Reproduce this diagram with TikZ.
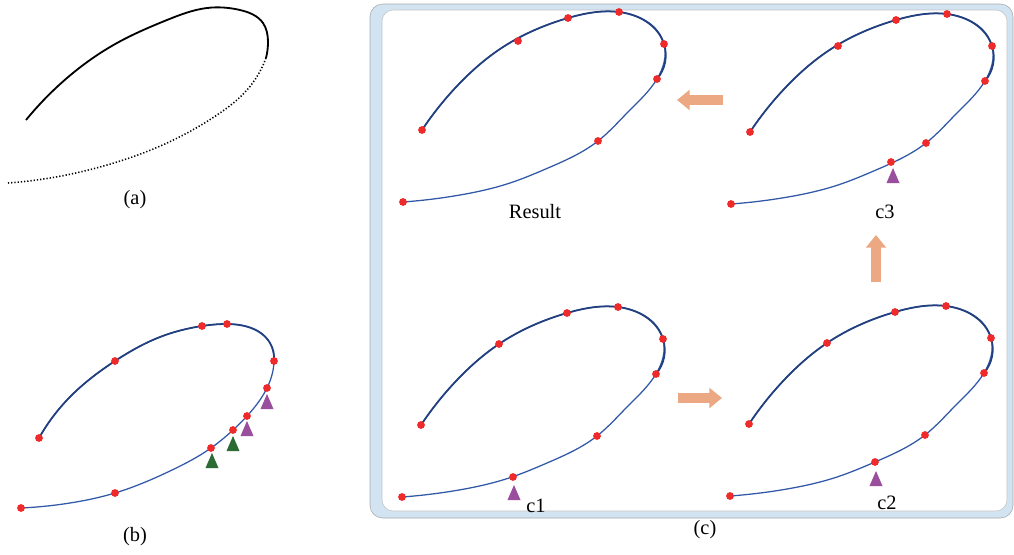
\documentclass[tikz,border=0pt]{standalone}
\usepackage{fontspec}
\setmainfont{Liberation Serif}
\usepackage{xcolor}
\usetikzlibrary{arrows.meta, hobby}
\definecolor{ptred}{HTML}{EE2A2A}
\definecolor{curveblue}{HTML}{3159A8}
\definecolor{curvenavy}{HTML}{22407F}
\definecolor{movegreen}{HTML}{2D6B34}
\definecolor{movepurple}{HTML}{9A4E9E}
\definecolor{arrowsalmon}{HTML}{EBA883}
\definecolor{frameblue}{HTML}{D2E4F2}
\definecolor{framegray}{HTML}{A9A9A9}
\tikzset{
  inputsolid/.style={black,line width=1.3pt},
  inputdotted/.style={black,line width=1.1pt,dash pattern=on 0.9pt off 1.4pt},
  curvelow/.style={curveblue,line width=0.9pt},
  curveup/.style={curvenavy,line width=1.25pt},
  ptdot/.style={fill=ptred},
  steparrow/.style={arrowsalmon,line width=7pt,-{Triangle[width=14pt,length=9pt]}},
  sublabel/.style={inner sep=1pt,font=\fontsize{14.5}{16}\selectfont},
}
% one loop, in the local frame of panel c1
\newcommand{\loopshape}{(421,425) to[curve through={(457,380) (499,344) (567,313) (618,307) (663,339) (656,374) (627,407) (597,436) (547,463) (509,478) (459,490)}] (402,497)}
\newcommand{\loopupper}{(421,425) to[curve through={(457,380) (499,344) (567,313) (618,307) (663,339)}] (656,374)}
\newcommand{\marktri}[3]{\fill[#1] ({#2-6.5},{#3+15}) -- ({#2+6.5},{#3+15}) -- (#2,#3) -- cycle;}

\begin{document}
\begin{tikzpicture}[x={(0.025cm,0)},y={(0,-0.025cm)}]
  \useasboundingbox (0,0) rectangle (1014,554);

  % (a) input curve
  \draw[inputsolid] (26,120) to[curve through={(67,78) (117,43) (167,20) (207,8) (240,10) (263,23) (268,42)}] (266,58);
  \draw[inputdotted] (266,58) to[curve through={(247,90) (217,115) (167,143) (100,167) (50,178)}] (8,183);
  \node[sublabel] (lblA) at (135,200) {(a)};

  % (b) fitted curve with candidate points
  \draw[curvelow] (39,438) to[curve through={(67,400) (115,361) (160,337) (202,326) (227,324) (270,343) (274,361) (267,388) (247,416) (233,430) (211,448) (170,471) (115,493) (70,503)}] (21,508);
  \draw[curveup] (39,438) to[curve through={(67,400) (115,361) (160,337) (202,326) (227,324) (270,343)}] (274,361);
  \foreach \p in {(39,438),(115,361),(202,326),(227,324),(274,361),(267,388),(247,416),(233,430),(211,448),(115,493),(21,508)}
    \fill[ptdot] \p circle (3.9);
  \marktri{movegreen}{212}{453}
  \marktri{movegreen}{233}{436}
  \marktri{movepurple}{247}{421}
  \marktri{movepurple}{267}{394}
  \node[sublabel] (lblB) at (135,537) {(b)};

  % (c) frame
  \draw[draw=framegray,fill=frameblue,rounded corners=9pt] (370,4) rectangle (1013,518);
  \draw[draw=framegray!70,fill=white,line width=0.4pt,rounded corners=8pt] (382,10) rectangle (1007,511);

  % c1
  \begin{scope}
    \draw[curvelow] \loopshape;
    \draw[curveup] \loopupper;
    \foreach \p in {(421,425),(499,344),(567,313),(618,307),(663,339),(656,374),(597,436),(513,477),(402,497)}
      \fill[ptdot] \p circle (3.9);
    \marktri{movepurple}{514}{485}
  \end{scope}
  \node[sublabel] (lblC1) at (536,506) {c1};

  % c2
  \begin{scope}[shift={(328,-1)}]
    \draw[curvelow] \loopshape;
    \draw[curveup] \loopupper;
    \foreach \p in {(421,425),(499,344),(567,313),(618,307),(663,339),(656,374),(597,436),(547,463),(402,497)}
      \fill[ptdot] \p circle (3.9);
    \marktri{movepurple}{548}{472}
  \end{scope}
  \node[sublabel] (lblC2) at (887,503) {c2};

  % c3
  \begin{scope}[shift={(329,-293)}]
    \draw[curvelow] \loopshape;
    \draw[curveup] \loopupper;
    \foreach \p in {(421,425),(509,339),(567,313),(618,307),(663,339),(656,374),(597,436),(562,455),(402,497)}
      \fill[ptdot] \p circle (3.9);
    \marktri{movepurple}{564}{461}
  \end{scope}
  \node[sublabel] (lblC3) at (885,212) {c3};

  % result
  \begin{scope}[shift={(1,-295)}]
    \draw[curvelow] \loopshape;
    \draw[curveup] \loopupper;
    \foreach \p in {(421,425),(517,336),(567,313),(618,307),(663,339),(656,374),(597,436),(402,497)}
      \fill[ptdot] \p circle (3.9);
  \end{scope}
  \node[sublabel] (lblRes) at (535,212) {Result};

  % steps
  \coordinate (s1a) at (678,398);
  \coordinate (s1b) at (722,398);
  \coordinate (s2a) at (876,282);
  \coordinate (s2b) at (876,235);
  \coordinate (s3a) at (723,100);
  \coordinate (s3b) at (677,100);
  \draw[steparrow] (s1a) -- (s1b);
  \draw[steparrow] (s2a) -- (s2b);
  \draw[steparrow] (s3a) -- (s3b);

  \node[sublabel] (lblC) at (705,530) {(c)};
\end{tikzpicture}
\end{document}
